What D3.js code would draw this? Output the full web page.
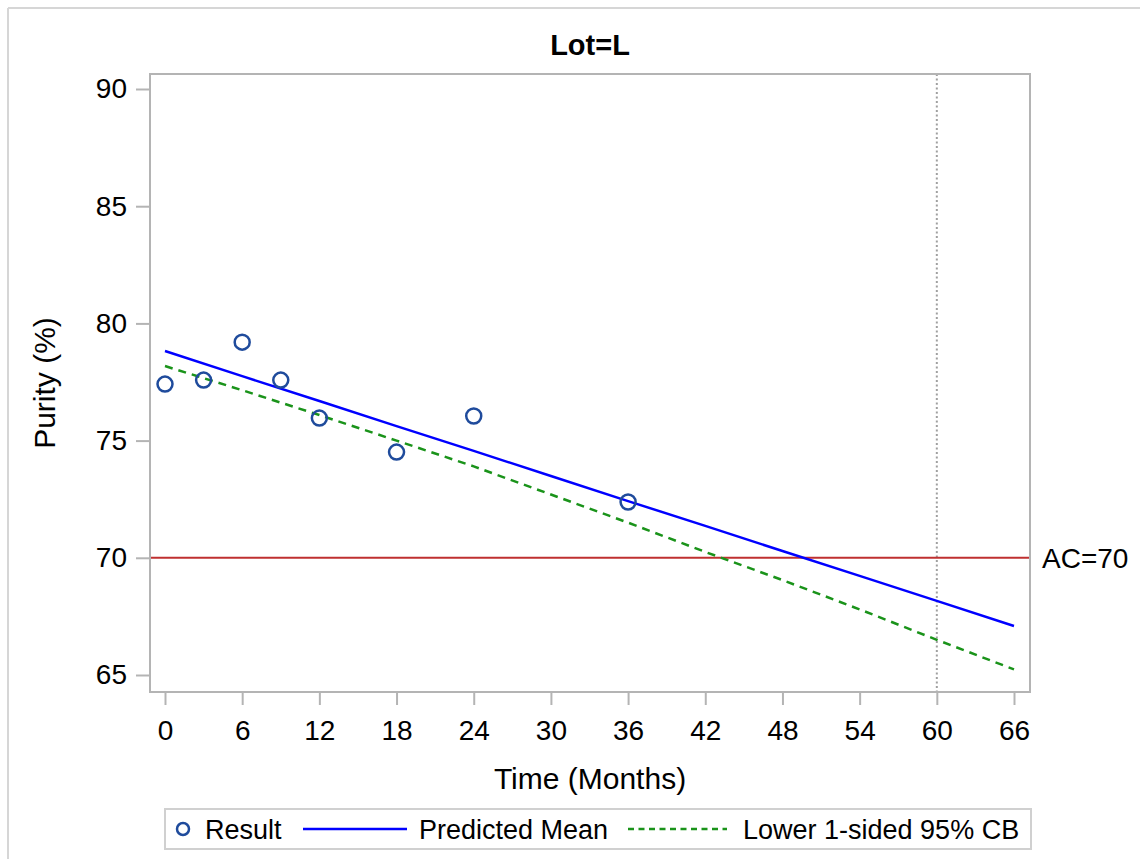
<!DOCTYPE html>
<html>
<head>
<meta charset="utf-8">
<script src="https://cdn.jsdelivr.net/npm/d3@7"></script>
<style>
  html, body { margin: 0; padding: 0; background: #fff; }
  svg { display: block; font-family: "Liberation Sans", Arial, sans-serif; }
</style>
</head>
<body>
<svg id="chart" width="1140" height="859"></svg>
<script>
// Observed purity results for Lot L
const times = [0, 3, 6, 9, 12, 18, 24, 36];
const results = [77.41, 77.58, 79.20, 77.58, 75.96, 74.51, 76.05, 72.38];

// Fitted curves evaluated every 6 months
const fitTimes = [0, 6, 12, 18, 24, 30, 36, 42, 48, 54, 60, 66];
const predictedMean = [78.82, 77.75, 76.69, 75.62, 74.56, 73.49, 72.42, 71.36, 70.29, 69.23, 68.16, 67.09];
const lowerBound = [78.18, 77.15, 76.09, 75.00, 73.90, 72.70, 71.50, 70.25, 69.05, 67.80, 66.50, 65.24];

// Axis ticks and reference values
const xTicks = [0, 6, 12, 18, 24, 30, 36, 42, 48, 54, 60, 66];
const yTicks = [65, 70, 75, 80, 85, 90];
const acceptanceCriterion = 70;
const shelfLifeMonth = 60;

const svg = d3.select("#chart");

const x = d3.scaleLinear().domain([0, 66]).range([165, 1014]);
const y = d3.scaleLinear().domain([65, 90]).range([675, 89]);

const frame = { left: 150, right: 1030, top: 74, bottom: 692 };
const axisGray = "#b4b4b4";

// Outer panel border (top and left edges)
svg.append("line").attr("x1", 8).attr("x2", 1140).attr("y1", 8).attr("y2", 8)
  .attr("stroke", "#d6d6d6").attr("stroke-width", 2);
svg.append("line").attr("x1", 8).attr("x2", 8).attr("y1", 8).attr("y2", 859)
  .attr("stroke", "#d6d6d6").attr("stroke-width", 2);

// Title
svg.append("text")
  .attr("x", (frame.left + frame.right) / 2).attr("y", 55)
  .attr("text-anchor", "middle").attr("font-size", 29).attr("font-weight", "bold")
  .attr("fill", "#000").text("Lot=L");

// Clip to the data area
svg.append("clipPath").attr("id", "plotClip").append("rect")
  .attr("x", frame.left).attr("y", frame.top)
  .attr("width", frame.right - frame.left).attr("height", frame.bottom - frame.top);

const plot = svg.append("g").attr("clip-path", "url(#plotClip)");

// Shelf-life reference line
plot.append("line")
  .attr("x1", x(shelfLifeMonth)).attr("x2", x(shelfLifeMonth))
  .attr("y1", frame.top).attr("y2", frame.bottom)
  .attr("stroke", "#a0a0a0").attr("stroke-width", 2).attr("stroke-dasharray", "2,2.5");

// Acceptance criterion line
plot.append("line")
  .attr("x1", frame.left).attr("x2", frame.right)
  .attr("y1", y(acceptanceCriterion)).attr("y2", y(acceptanceCriterion))
  .attr("stroke", "#bf3030").attr("stroke-width", 2);

const line = d3.line().x(d => x(d[0])).y(d => y(d[1]));

// Lower 1-sided 95% confidence bound
plot.append("path")
  .datum(fitTimes.map((t, i) => [t, lowerBound[i]]))
  .attr("d", line).attr("fill", "none")
  .attr("stroke", "#1a931a").attr("stroke-width", 2.5).attr("stroke-dasharray", "8,6");

// Predicted mean
plot.append("path")
  .datum(fitTimes.map((t, i) => [t, predictedMean[i]]))
  .attr("d", line).attr("fill", "none")
  .attr("stroke", "#0000ff").attr("stroke-width", 2.5);

// Observed results
plot.selectAll("circle.obs")
  .data(times.map((t, i) => [t, results[i]]))
  .join("circle").attr("class", "obs")
  .attr("cx", d => x(d[0])).attr("cy", d => y(d[1])).attr("r", 7.5)
  .attr("fill", "none").attr("stroke", "#1f4b9c").attr("stroke-width", 2.5);

// Plot frame
svg.append("rect")
  .attr("x", frame.left).attr("y", frame.top)
  .attr("width", frame.right - frame.left).attr("height", frame.bottom - frame.top)
  .attr("fill", "none").attr("stroke", axisGray).attr("stroke-width", 2);

// Axes
const xAxis = svg.append("g").attr("transform", `translate(0,${frame.bottom})`)
  .call(d3.axisBottom(x).tickValues(xTicks).tickSize(13).tickPadding(15));
const yAxis = svg.append("g").attr("transform", `translate(${frame.left},0)`)
  .call(d3.axisLeft(y).tickValues(yTicks).tickSize(14).tickPadding(9));

[xAxis, yAxis].forEach(g => {
  g.select(".domain").remove();
  g.selectAll(".tick line").attr("stroke", axisGray).attr("stroke-width", 2);
  g.selectAll(".tick text").attr("font-size", 28).attr("fill", "#000")
    .attr("font-family", "'Liberation Sans', Arial, sans-serif");
});

// Axis labels
svg.append("text")
  .attr("x", (frame.left + frame.right) / 2).attr("y", 789)
  .attr("text-anchor", "middle").attr("font-size", 30).attr("fill", "#000")
  .text("Time (Months)");
svg.append("text")
  .attr("transform", `translate(55,${(frame.top + frame.bottom) / 2}) rotate(-90)`)
  .attr("text-anchor", "middle").attr("font-size", 30).attr("fill", "#000")
  .text("Purity (%)");

// Acceptance criterion label
svg.append("text")
  .attr("x", 1042).attr("y", y(acceptanceCriterion) + 10)
  .attr("font-size", 28).attr("fill", "#000")
  .text("AC=" + acceptanceCriterion);

// Legend
const legend = svg.append("g");
legend.append("rect")
  .attr("x", 165).attr("y", 809).attr("width", 866).attr("height", 40)
  .attr("fill", "#fff").attr("stroke", "#d0d0d0").attr("stroke-width", 2);
const ly = 829;
legend.append("circle").attr("cx", 183).attr("cy", ly).attr("r", 6)
  .attr("fill", "none").attr("stroke", "#1f4b9c").attr("stroke-width", 2.5);
legend.append("text").attr("x", 205).attr("y", ly + 10)
  .attr("font-size", 27).text("Result");
legend.append("line").attr("x1", 303).attr("x2", 407).attr("y1", ly).attr("y2", ly)
  .attr("stroke", "#0000ff").attr("stroke-width", 2.5);
legend.append("text").attr("x", 419).attr("y", ly + 10)
  .attr("font-size", 27).text("Predicted Mean");
legend.append("line").attr("x1", 628).attr("x2", 727).attr("y1", ly).attr("y2", ly)
  .attr("stroke", "#1a931a").attr("stroke-width", 2.5).attr("stroke-dasharray", "6,4.5");
legend.append("text").attr("x", 743).attr("y", ly + 10)
  .attr("font-size", 27).text("Lower 1-sided 95% CB");
</script>
</body>
</html>
